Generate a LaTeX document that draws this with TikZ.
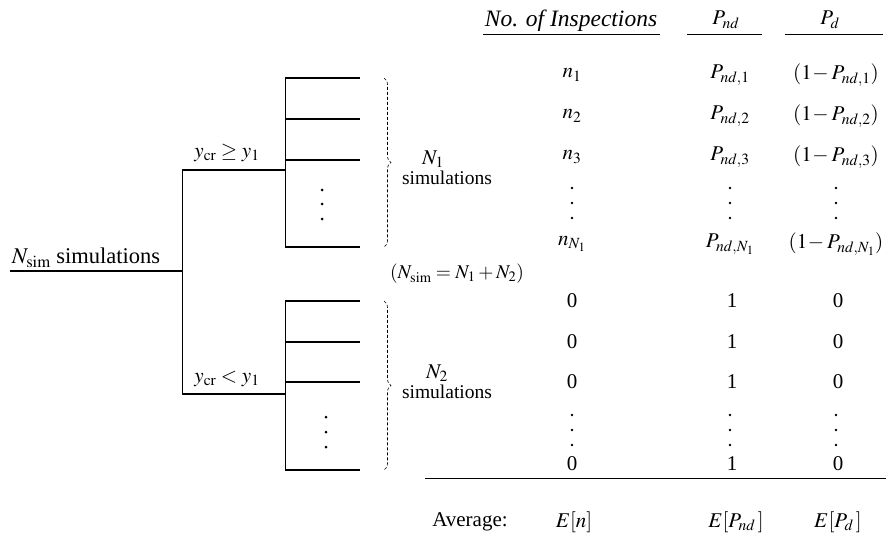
\documentclass[tikz,border=0pt]{standalone}
\usepackage{mathptmx}
\usepackage[no-math]{fontspec}
\setmainfont{Liberation Serif}
\usetikzlibrary{decorations.pathreplacing}
\begin{document}
\begin{tikzpicture}[x=1pt,y=-1pt,
  every node/.style={inner sep=0pt, font=\fontsize{21}{25}\selectfont},
  ln/.style={line width=1.4pt},
  lnv/.style={line width=1.0pt},
  brc/.style={dashed, dash pattern=on 3pt off 2pt, line width=0.6pt, decorate, decoration={brace, amplitude=7pt}},
  vdot/.style={circle, fill=black, inner sep=0pt, minimum size=3pt},
  tdot/.style={circle, fill=black, inner sep=0pt, minimum size=2.6pt},
  rowtxt/.style={anchor=center},
  small/.style={font=\fontsize{19.5}{22}\selectfont},
]
\useasboundingbox (0,0) rectangle (889,541);

% ---- tree ----
\coordinate (root) at (10,271);
\coordinate (split) at (182,271);
\coordinate (up) at (182,170);
\coordinate (dn) at (182,394);
\coordinate (upf) at (285,170);
\coordinate (dnf) at (285,394);
\coordinate (ft1) at (285,78);
\coordinate (fb1) at (285,247);
\coordinate (ft2) at (285,301);
\coordinate (fb2) at (285,470);

\draw[ln] (root) -- (split);
\draw[lnv] (up) -- (dn);
\draw[ln] (up) -- (upf);
\draw[ln] (dn) -- (dnf);
\draw[lnv] (ft1) -- (fb1);
\draw[lnv] (ft2) -- (fb2);
\foreach \yy/\nm in {78/a1,119/a2,160/a3,247/a4,301/b1,342/b2,382/b3,470/b4}{
  \coordinate (s\nm) at (285,\yy);
  \coordinate (e\nm) at (360,\yy);
  \draw[ln] (s\nm) -- (e\nm);
}
\node[vdot] (fd1) at (322,190) {};
\node[vdot] (fd2) at (322,204) {};
\node[vdot] (fd3) at (322,219) {};
\node[vdot] (fd4) at (326,417) {};
\node[vdot] (fd5) at (326,432) {};
\node[vdot] (fd6) at (326,447) {};

\node[font=\fontsize{22.5}{26}\selectfont] (nsimlab) at (86,258) {$N_{\mathrm{sim}}$ simulations};
\node (cup) at (227,153) {$y_{\mathrm{cr}} \ge y_1$};
\node (cdn) at (227,379) {$y_{\mathrm{cr}} < y_1$};

% ---- braces ----
\coordinate (bt1) at (384,78);
\coordinate (bb1) at (384,247);
\coordinate (bt2) at (384,301);
\coordinate (bb2) at (384,470);
\draw[brc] (bt1) -- (bb1);
\draw[brc] (bt2) -- (bb2);
\node (n1lab) at (433,159) {$N_1$};
\node[small] (s1lab) at (447,178) {simulations};
\node (n2lab) at (437,373) {$N_2$};
\node[small] (s2lab) at (447,392) {simulations};
\node[small] (sumlab) at (457,274) {$(N_{\mathrm{sim}} = N_1 + N_2)$};

% ---- table header ----
\node[font=\fontsize{23.5}{27}\selectfont] (h1) at (571,21) {\itshape No. of Inspections};
\node (h2) at (726,20) {$P_{nd}$};
\node (h3) at (830,20) {$P_d$};
\coordinate (u1a) at (483,34); \coordinate (u1b) at (660,34);
\coordinate (u2a) at (687,34); \coordinate (u2b) at (762,34);
\coordinate (u3a) at (785,34); \coordinate (u3b) at (883,34);
\draw[line width=1pt] (u1a) -- (u1b);
\draw[line width=1pt] (u2a) -- (u2b);
\draw[line width=1pt] (u3a) -- (u3b);

% ---- table rows ----
\node[rowtxt] (r1a) at (572,75) {$n_1$};
\node[rowtxt] (r1b) at (730,75) {$P_{nd,1}$};
\node[rowtxt] (r1c) at (836,75) {$(1\!-P_{nd,1})$};
\node[rowtxt] (r2a) at (572,116) {$n_2$};
\node[rowtxt] (r2b) at (730,116) {$P_{nd,2}$};
\node[rowtxt] (r2c) at (836,116) {$(1\!-P_{nd,2})$};
\node[rowtxt] (r3a) at (572,157) {$n_3$};
\node[rowtxt] (r3b) at (730,157) {$P_{nd,3}$};
\node[rowtxt] (r3c) at (836,157) {$(1\!-P_{nd,3})$};
\foreach \xx/\cn in {572/a,730/b,836/c}{
  \node[tdot] (ud\cn1) at (\xx,188) {};
  \node[tdot] (ud\cn2) at (\xx,203) {};
  \node[tdot] (ud\cn3) at (\xx,218) {};
  \node[tdot] (ld\cn1) at (\xx,415) {};
  \node[tdot] (ld\cn2) at (\xx,430) {};
  \node[tdot] (ld\cn3) at (\xx,445) {};
}
\node[rowtxt] (r4a) at (572,244) {$n_{N_1}$};
\node[rowtxt] (r4b) at (730,244) {$P_{nd,N_1}$};
\node[rowtxt] (r4c) at (836,244) {$(1\!-P_{nd,N_1})$};
\foreach \yy/\k in {301/5,342/6,382/7,464/8}{
  \node[rowtxt] (r\k a) at (572,\yy) {0};
  \node[rowtxt] (r\k b) at (732,\yy) {1};
  \node[rowtxt] (r\k c) at (838,\yy) {0};
}
\coordinate (rl) at (425,478);
\coordinate (rr) at (886,478);
\draw[line width=1pt] (rl) -- (rr);
\node[rowtxt] (avg) at (470,522) {Average:};
\node[rowtxt] (en) at (574,522) {$E[n]$};
\node[rowtxt] (epnd) at (736,522) {$E[P_{nd}\,]$};
\node[rowtxt] (epd) at (838,522) {$E[P_d\,]$};
\end{tikzpicture}
\end{document}
